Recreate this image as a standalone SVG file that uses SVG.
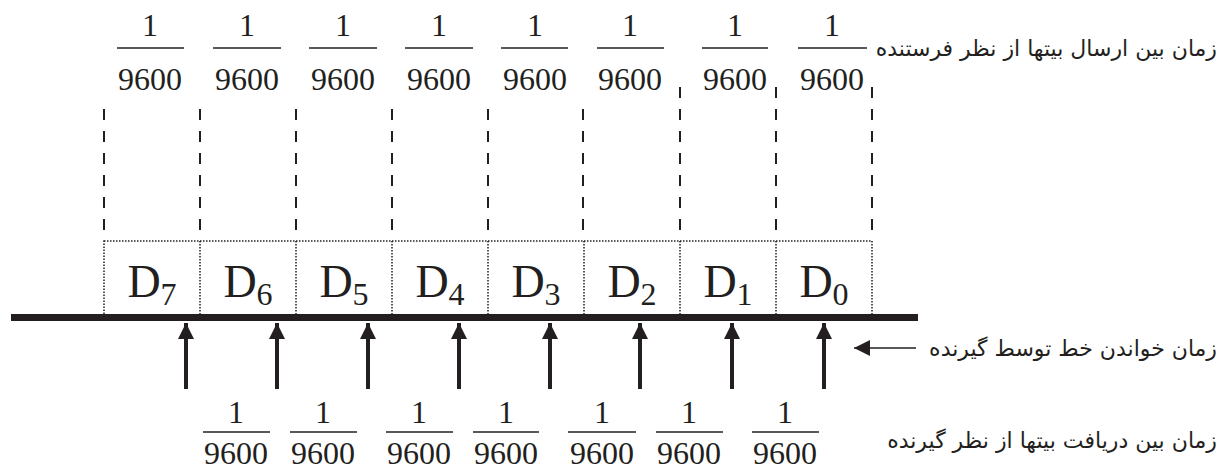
<svg xmlns="http://www.w3.org/2000/svg" width="1224" height="469" viewBox="0 0 1224 469">
<defs>
<style>
.num{font-size:32px;fill:#231f20;text-anchor:middle}
.d{font-size:46px;fill:#231f20;text-anchor:middle}
.fa{font-size:22px;fill:#231f20;text-anchor:end}
.bar{stroke:#231f20;stroke-width:1.5}
.dash{stroke:#231f20;stroke-width:2;stroke-dasharray:11 11}
.dot{stroke:#231f20;stroke-width:1.5;stroke-dasharray:1.5 1.5;fill:none}
.shaft{stroke:#231f20;stroke-width:4}
</style>
<marker id="ah" markerUnits="userSpaceOnUse" markerWidth="18" markerHeight="16" refX="16" refY="8" orient="auto">
<path d="M0,0 L16,8 L0,16 Z" fill="#231f20"/>
</marker>
</defs>
<rect width="1224" height="469" fill="#fff"/>

<g id="sender-fractions">
<g class="num" font-family="'Liberation Serif', 'Times New Roman', serif">
<text x="150" y="36">1</text><text x="150" y="90">9600</text>
<text x="247" y="36">1</text><text x="247" y="90">9600</text>
<text x="343" y="36">1</text><text x="343" y="90">9600</text>
<text x="439" y="36">1</text><text x="439" y="90">9600</text>
<text x="535" y="36">1</text><text x="535" y="90">9600</text>
<text x="630" y="36">1</text><text x="630" y="90">9600</text>
<text x="735" y="36">1</text><text x="735" y="90">9600</text>
<text x="832" y="36">1</text><text x="832" y="90">9600</text>
</g>
<g class="bar">
<line x1="117" y1="48" x2="184" y2="48"/>
<line x1="213" y1="48" x2="281" y2="48"/>
<line x1="309" y1="48" x2="377" y2="48"/>
<line x1="405" y1="48" x2="473" y2="48"/>
<line x1="501" y1="48" x2="568" y2="48"/>
<line x1="597" y1="48" x2="664" y2="48"/>
<line x1="702" y1="48" x2="768" y2="48"/>
<line x1="798" y1="48" x2="867" y2="48"/>
</g>
</g>

<g id="sender-label"><text class="fa" font-family="'DejaVu Sans', sans-serif" x="1217" y="56">زمان بین  ارسال بیتها از نظر فرستنده</text></g>

<g id="bit-boundaries">
<line class="dash" x1="104" y1="109" x2="104" y2="233"/>
<line class="dash" x1="200" y1="109" x2="200" y2="233"/>
<line class="dash" x1="296" y1="109" x2="296" y2="233"/>
<line class="dash" x1="392" y1="109" x2="392" y2="233"/>
<line class="dash" x1="488" y1="109" x2="488" y2="233"/>
<line class="dash" x1="583" y1="109" x2="583" y2="233"/>
<line class="dash" x1="680" y1="87" x2="680" y2="233"/>
<line class="dash" x1="776" y1="87" x2="776" y2="233"/>
<line class="dash" x1="872" y1="87" x2="872" y2="233"/>
</g>

<g id="bit-cells">
<rect class="dot" x="104" y="241" width="768" height="74"/>
<line class="dot" x1="200" y1="241" x2="200" y2="315"/>
<line class="dot" x1="296" y1="241" x2="296" y2="315"/>
<line class="dot" x1="392" y1="241" x2="392" y2="315"/>
<line class="dot" x1="488" y1="241" x2="488" y2="315"/>
<line class="dot" x1="584" y1="241" x2="584" y2="315"/>
<line class="dot" x1="680" y1="241" x2="680" y2="315"/>
<line class="dot" x1="776" y1="241" x2="776" y2="315"/>
</g>
<g id="bits" font-family="'Liberation Serif', 'Times New Roman', serif">
<text class="d" x="152" y="297">D<tspan font-size="32" dy="8">7</tspan></text>
<text class="d" x="248" y="297">D<tspan font-size="32" dy="8">6</tspan></text>
<text class="d" x="344" y="297">D<tspan font-size="32" dy="8">5</tspan></text>
<text class="d" x="440" y="297">D<tspan font-size="32" dy="8">4</tspan></text>
<text class="d" x="536" y="297">D<tspan font-size="32" dy="8">3</tspan></text>
<text class="d" x="632" y="297">D<tspan font-size="32" dy="8">2</tspan></text>
<text class="d" x="728" y="297">D<tspan font-size="32" dy="8">1</tspan></text>
<text class="d" x="824" y="297">D<tspan font-size="32" dy="8">0</tspan></text>
</g>

<g id="line"><rect x="11" y="314" width="907" height="7" fill="#231f20"/></g>

<g id="connectors">
<line class="shaft" x1="186" y1="389" x2="186" y2="323" marker-end="url(#ah)"/>
<line class="shaft" x1="277" y1="389" x2="277" y2="323" marker-end="url(#ah)"/>
<line class="shaft" x1="368" y1="389" x2="368" y2="323" marker-end="url(#ah)"/>
<line class="shaft" x1="459" y1="389" x2="459" y2="323" marker-end="url(#ah)"/>
<line class="shaft" x1="550" y1="389" x2="550" y2="323" marker-end="url(#ah)"/>
<line class="shaft" x1="640" y1="389" x2="640" y2="323" marker-end="url(#ah)"/>
<line class="shaft" x1="732" y1="389" x2="732" y2="323" marker-end="url(#ah)"/>
<line class="shaft" x1="824" y1="389" x2="824" y2="323" marker-end="url(#ah)"/>
<line x1="916" y1="348" x2="854" y2="348" stroke="#231f20" stroke-width="1.5" marker-end="url(#ah)"/>
</g>

<g id="read-label"><text class="fa" font-family="'DejaVu Sans', sans-serif" x="1217" y="356">زمان خواندن خط توسط گیرنده</text></g>

<g id="receiver-fractions">
<g class="num" font-family="'Liberation Serif', 'Times New Roman', serif">
<text x="236" y="423">1</text><text x="236" y="464">9600</text>
<text x="323" y="423">1</text><text x="323" y="464">9600</text>
<text x="419" y="423">1</text><text x="419" y="464">9600</text>
<text x="506" y="423">1</text><text x="506" y="464">9600</text>
<text x="602" y="423">1</text><text x="602" y="464">9600</text>
<text x="689" y="423">1</text><text x="689" y="464">9600</text>
<text x="785" y="423">1</text><text x="785" y="464">9600</text>
</g>
<g class="bar">
<line x1="203" y1="432" x2="270" y2="432"/>
<line x1="290" y1="432" x2="357" y2="432"/>
<line x1="386" y1="432" x2="453" y2="432"/>
<line x1="473" y1="432" x2="539" y2="432"/>
<line x1="568" y1="432" x2="636" y2="432"/>
<line x1="656" y1="432" x2="723" y2="432"/>
<line x1="752" y1="432" x2="819" y2="432"/>
</g>
</g>

<g id="receiver-label"><text class="fa" font-family="'DejaVu Sans', sans-serif" x="1217" y="448">زمان بین  دریافت بیتها از نظر گیرنده</text></g>
</svg>
